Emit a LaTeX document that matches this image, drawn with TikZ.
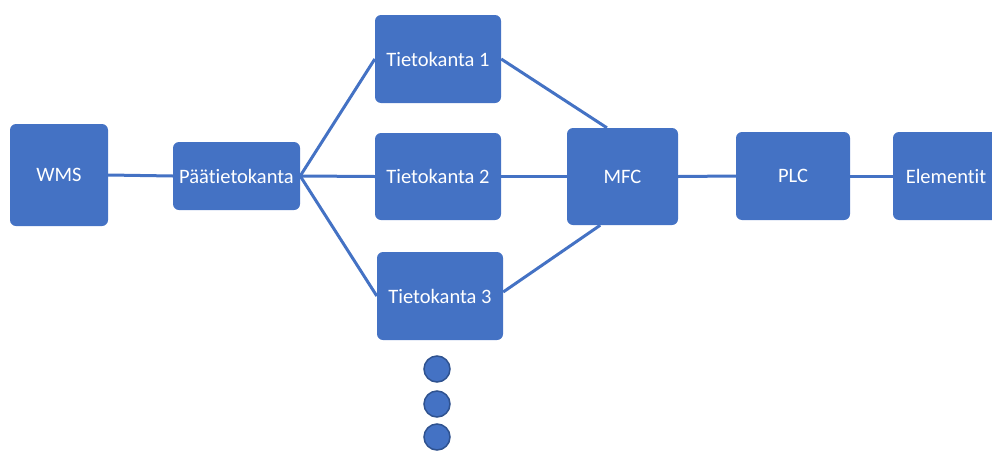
\documentclass[tikz,border=0pt]{standalone}
\usepackage{fontspec}
\setmainfont{Carlito}[Ligatures=NoCommon]
\usetikzlibrary{calc}
\definecolor{boxblue}{HTML}{4472C4}
\definecolor{edgeblue}{HTML}{2F528F}
\begin{document}
\begin{tikzpicture}[x=1pt,y=1pt,
  block/.style={rectangle, rounded corners=6pt, fill=boxblue, draw=none,
    text=white, inner sep=0pt, font=\fontsize{20.5}{24}\selectfont},
  link/.style={draw=boxblue, line width=3pt},
  dot/.style={circle, fill=boxblue, draw=edgeblue, line width=1.5pt,
    minimum size=26pt, inner sep=0pt}]
\useasboundingbox (0,0) rectangle (992,-450);
\clip (0,0) rectangle (992,-450);

% blocks
\node[block, minimum width=98pt,  minimum height=102pt] (wms)  at (59,-175)    {WMS};
\node[block, minimum width=127pt, minimum height=68pt]  (main) at (236.5,-176) {Päätietokanta};
\node[block, minimum width=126pt, minimum height=88pt]  (db1)  at (438,-59)    {Tietokanta 1};
\node[block, minimum width=126pt, minimum height=87pt]  (db2)  at (438,-176.5) {Tietokanta 2};
\node[block, minimum width=126pt, minimum height=88pt]  (db3)  at (440,-296)   {Tietokanta 3};
\node[block, minimum width=111pt, minimum height=97pt]  (mfc)  at (622.5,-176.5) {MFC};
\node[block, minimum width=114pt, minimum height=88pt]  (plc)  at (793,-176)   {PLC};
\node[block, minimum width=106pt, minimum height=88pt]  (elem) at (946,-176)   {Elementit};

% more databases
\node[dot] (d1) at (437,-369) {};
\node[dot] (d2) at (437,-404) {};
\node[dot] (d3) at (437,-437) {};

% attachment points on the MFC block
\coordinate (mfctop) at ($(mfc.north west)!0.36!(mfc.north east)$);
\coordinate (mfcbot) at ($(mfc.south west)!0.30!(mfc.south east)$);

% connectors
\draw[link] (wms.east) -- (main.west);
\draw[link] (main.east) -- (db1.west);
\draw[link] (main.east) -- (db2.west);
\draw[link] (main.east) -- (db3.west);
\draw[link] (db1.east) -- (mfctop);
\draw[link] (db2.east) -- (mfc.west);
\draw[link] ([yshift=4pt]db3.east) -- (mfcbot);
\draw[link] (mfc.east) -- (plc.west);
\draw[link] (plc.east) -- (elem.west);
\end{tikzpicture}
\end{document}
